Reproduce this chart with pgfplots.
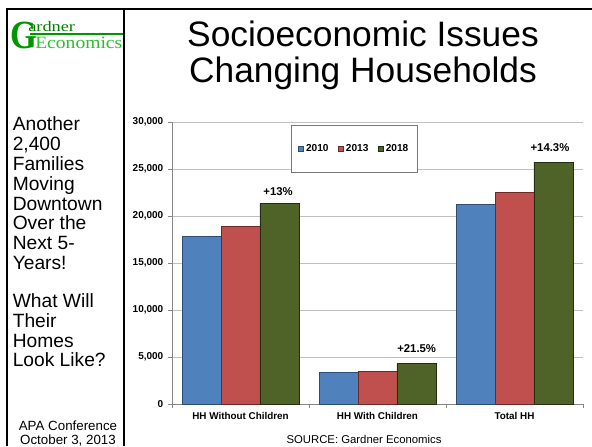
\documentclass[border=0pt]{standalone}
\usepackage{fontspec}
\setmainfont{Liberation Sans}
\newfontfamily\logofont{Liberation Serif}
\usepackage{graphicx}
\usepackage{pgfplots}
\pgfplotsset{compat=1.18}
\definecolor{cblue}{RGB}{79,129,189}
\definecolor{cblueedge}{RGB}{45,75,115}
\definecolor{cred}{RGB}{192,80,77}
\definecolor{crededge}{RGB}{110,40,38}
\definecolor{cgreen}{RGB}{79,98,40}
\definecolor{cgreenedge}{RGB}{35,45,18}
\definecolor{axisgray}{RGB}{134,134,134}
\definecolor{gridgray}{RGB}{192,192,192}
\definecolor{legendgray}{RGB}{120,120,120}
\definecolor{logoG}{RGB}{0,150,0}
\definecolor{logoA}{RGB}{0,125,0}
\definecolor{logoE}{RGB}{45,190,45}
\begin{document}
\begin{tikzpicture}
\path[use as bounding box] (0,0) rectangle (444pt,334.5pt);
% frame lines
\draw[line width=1.5pt] (5.5pt,0) -- (5.5pt,327.75pt) -- (444pt,327.75pt);
\draw[line width=1.5pt] (93pt,0) -- (93pt,327.75pt);
% logo
\node[anchor=base west, inner sep=0, text=logoG, font=\logofont\bfseries\fontsize{30}{30}\selectfont] at (7.3pt,297.75pt) {\scalebox{0.86}[1]{G}};
\node[anchor=base west, inner sep=0, text=logoA, font=\logofont\fontsize{11}{11}\selectfont] at (21pt,310.7pt) {\scalebox{1.25}[1]{ardner}};
\draw[logoG, line width=0.9pt] (22.5pt,309pt) -- (92.25pt,309pt);
\node[anchor=base west, inner sep=0, text=logoE, font=\logofont\fontsize{13}{13}\selectfont] at (26.25pt,298.3pt) {\scalebox{1.13}[1]{Economics}};
% title
\node[anchor=base, inner sep=0, font=\fontsize{26.5}{30}\selectfont] at (272.25pt,299.25pt) {Socioeconomic Issues};
\node[anchor=base, inner sep=0, font=\fontsize{26.5}{30}\selectfont] at (272.25pt,272.25pt) {Changing Households};
% left text
\foreach \t [count=\i from 0] in {Another,{2,400},Families,Moving,Downtown,Over the,Next 5-,Years!}
  \node[anchor=base west, inner sep=0, font=\fontsize{14.4}{15}\selectfont] at (9.4pt,{236.5pt-\i*14.9pt}) {\t};
\foreach \t [count=\i from 0] in {What Will,Their,Homes,Look Like?}
  \node[anchor=base west, inner sep=0, font=\fontsize{14.4}{15}\selectfont] at (9.4pt,{104pt-\i*14.9pt}) {\t};
\node[anchor=base, inner sep=0, font=\fontsize{10}{10}\selectfont] at (51pt,12pt) {APA Conference};
\node[anchor=base, inner sep=0, font=\fontsize{10}{10}\selectfont] at (51pt,1.5pt) {October 3, 2013};
\node[anchor=base, inner sep=0, font=\fontsize{8.5}{9}\selectfont] at (273pt,2.25pt) {SOURCE: Gardner Economics};
% chart
\begin{axis}[
  at={(129pt,31.5pt)}, anchor=south west,
  scale only axis, width=308.25pt, height=211.5pt,
  xmin=-0.5, xmax=2.5, ymin=0, ymax=30000,
  axis lines*=left,
  axis line style={draw=axisgray, line width=0.6pt},
  ybar, bar width=0.284,
  xtick={0,1,2},
  xticklabels={HH Without Children,HH With Children,Total HH},
  major x tick style={draw=none},
  minor xtick={-0.5,0.5,1.5,2.5},
  minor x tick style={draw=axisgray, line width=0.6pt},
  ytick={0,5000,10000,15000,20000,25000,30000},
  y tick style={draw=axisgray, line width=0.6pt},
  tick align=outside,
  major tick length=3pt, minor tick length=3pt,
  ymajorgrids, grid style={draw=gridgray, line width=0.6pt},
  scaled y ticks=false,
  /pgf/number format/assume math mode=true,
  yticklabel style={/pgf/number format/1000 sep={,}, font=\bfseries\fontsize{7.5}{8}\selectfont},
  xticklabel style={font=\bfseries\fontsize{7.4}{8}\selectfont},
  legend columns=3,
  legend image code/.code={\draw[#1, line width=0.4pt] (0pt,-1.8pt) rectangle (3.6pt,1.8pt);},
  legend style={at={(0.444,0.904)}, anchor=center, draw=legendgray, line width=0.6pt,
    font=\bfseries\fontsize{7.6}{8}\selectfont, inner xsep=5pt, inner ysep=12pt,
    /tikz/every even column/.append style={column sep=5pt}},
]
\addplot[fill=cblue, draw=cblueedge, line width=0.5pt, bar shift=-0.284] coordinates {(0,17840) (1,3370) (2,21240)};
\addplot[fill=cred, draw=crededge, line width=0.5pt, bar shift=0] coordinates {(0,18900) (1,3510) (2,22550)};
\addplot[fill=cgreen, draw=cgreenedge, line width=0.5pt, bar shift=0.284] coordinates {(0,21350) (1,4290) (2,25710)};
\legend{2010,2013,2018}
\node[anchor=base, inner sep=0, font=\bfseries\fontsize{8.5}{9}\selectfont] at (axis cs:0.274,22130) {+13\%};
\node[anchor=base, inner sep=0, font=\bfseries\fontsize{8.5}{9}\selectfont] at (axis cs:1.286,5430) {+21.5\%};
\node[anchor=base, inner sep=0, font=\bfseries\fontsize{8.5}{9}\selectfont] at (axis cs:2.259,26840) {+14.3\%};
\end{axis}
\end{tikzpicture}
\end{document}
